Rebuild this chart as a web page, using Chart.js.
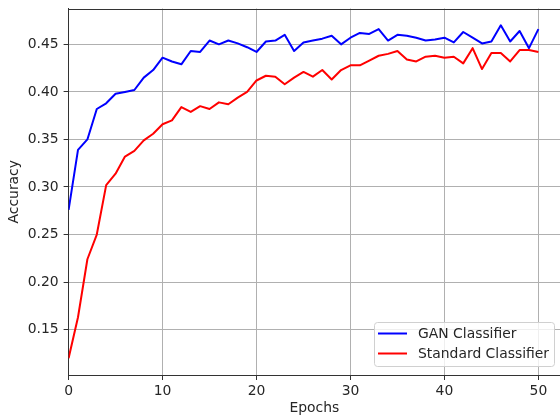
<!DOCTYPE html>
<html>
<head>
<meta charset="utf-8">
<script src="https://cdn.jsdelivr.net/npm/chart.js@4/dist/chart.umd.min.js"></script>
<style>
  html, body { margin: 0; padding: 0; background: #fff; }
  #wrap { width: 560px; height: 417px; }
</style>
</head>
<body>
<div id="wrap"><canvas id="accChart" width="560" height="417"></canvas></div>
<script>
// Data
const epochs = [0, 1, 2, 3, 4, 5, 6, 7, 8, 9, 10, 11, 12, 13, 14, 15, 16, 17, 18, 19, 20,
    21, 22, 23, 24, 25, 26, 27, 28, 29, 30, 31, 32, 33, 34, 35, 36, 37, 38, 39, 40,
    41, 42, 43, 44, 45, 46, 47, 48, 49, 50];

const ganAcc = [0.276, 0.339, 0.350, 0.382, 0.388, 0.398, 0.400, 0.402, 0.415, 0.423, 0.436,
    0.432, 0.429, 0.443, 0.442, 0.454, 0.450, 0.454, 0.451, 0.447, 0.442,
    0.453, 0.454, 0.460, 0.443, 0.452, 0.454, 0.456, 0.459, 0.450, 0.457,
    0.462, 0.461, 0.466, 0.454, 0.460, 0.459, 0.457, 0.454, 0.455, 0.457,
    0.452, 0.463, 0.457, 0.451, 0.453, 0.470, 0.453, 0.464, 0.446, 0.466];

const stdAcc = [0.120, 0.163, 0.224, 0.250, 0.302, 0.314, 0.332, 0.338, 0.349, 0.356, 0.366,
    0.370, 0.384, 0.379, 0.385, 0.382, 0.389, 0.387, 0.394, 0.400, 0.412,
    0.417, 0.416, 0.408, 0.415, 0.421, 0.416, 0.423, 0.413, 0.423, 0.428,
    0.428, 0.433, 0.438, 0.440, 0.443, 0.434, 0.432, 0.437, 0.438, 0.436,
    0.437, 0.430, 0.446, 0.424, 0.441, 0.441, 0.432, 0.444, 0.444, 0.442];

const xTicks = [0, 10, 20, 30, 40, 50];
const yTicks = [0.15, 0.20, 0.25, 0.30, 0.35, 0.40, 0.45];

const FONT = 'DejaVu Sans';
const FSIZE = 13.9;
const TXT = '#262626';
const SPINE = '#333333';

// top spine, matplotlib style
const frameTop = {
    id: 'frameTop',
    afterDraw(chart) {
        const a = chart.chartArea, ctx = chart.ctx;
        ctx.save();
        ctx.strokeStyle = SPINE;
        ctx.lineWidth = 1;
        ctx.beginPath();
        ctx.moveTo(a.left, Math.round(a.top) + 0.5);
        ctx.lineTo(chart.width, Math.round(a.top) + 0.5);
        ctx.stroke();
        ctx.restore();
    }
};

// legend box in the lower right corner
const boxLegend = {
    id: 'boxLegend',
    afterDraw(chart) {
        const ctx = chart.ctx;
        const x = 374.5, y = 322.5, w = 180, h = 44;
        ctx.save();
        ctx.fillStyle = 'rgba(255,255,255,0.8)';
        ctx.strokeStyle = '#d0d0d0';
        ctx.lineWidth = 1;
        ctx.beginPath();
        ctx.roundRect(x, y, w, h, 3);
        ctx.fill();
        ctx.stroke();
        ctx.font = FSIZE + 'px "' + FONT + '"';
        ctx.textBaseline = 'middle';
        ctx.fillStyle = TXT;
        chart.data.datasets.forEach((ds, i) => {
            const ly = 333.5 + i * 20;
            ctx.strokeStyle = ds.borderColor;
            ctx.lineWidth = 2;
            ctx.beginPath();
            ctx.moveTo(378, ly);
            ctx.lineTo(407, ly);
            ctx.stroke();
            ctx.fillText(ds.label, 418, ly + 1);
        });
        ctx.restore();
    }
};

const ctx = document.getElementById('accChart').getContext('2d');
new Chart(ctx, {
    type: 'line',
    data: {
        datasets: [{
            label: 'GAN Classifier',
            data: epochs.map((e, i) => ({ x: e, y: ganAcc[i] })),
            borderColor: '#0000ff',
            borderWidth: 2,
            order: 1
        }, {
            label: 'Standard Classifier',
            data: epochs.map((e, i) => ({ x: e, y: stdAcc[i] })),
            borderColor: '#ff0000',
            borderWidth: 2,
            order: 0
        }]
    },
    options: {
        responsive: false,
        animation: false,
        events: [],
        layout: { padding: { top: 8.5, right: 0, left: 0, bottom: 0 } },
        elements: {
            point: { radius: 0 },
            line: { tension: 0, borderJoinStyle: 'round', fill: false }
        },
        plugins: {
            legend: { display: false },
            tooltip: { enabled: false }
        },
        scales: {
            x: {
                type: 'linear',
                min: 0,
                max: 52.3,
                afterBuildTicks: s => { s.ticks = xTicks.map(v => ({ value: v })); },
                afterFit: s => { s.height = 42; s.paddingLeft = 0; s.paddingRight = 0; },
                grid: { color: '#b0b0b0', lineWidth: 1, tickColor: SPINE, tickLength: 5 },
                border: { color: SPINE, width: 1 },
                ticks: {
                    font: { family: FONT, size: FSIZE },
                    color: TXT,
                    padding: 3,
                    maxRotation: 0,
                    callback: v => String(v)
                },
                title: {
                    display: true,
                    text: 'Epochs',
                    font: { family: FONT, size: FSIZE },
                    color: TXT,
                    padding: { top: 0, bottom: 0 }
                }
            },
            y: {
                min: 0.1023,
                max: 0.4877,
                afterBuildTicks: s => { s.ticks = yTicks.map(v => ({ value: v })); },
                afterFit: s => { s.width = 68.6; s.paddingTop = 0; s.paddingBottom = 0; },
                grid: { color: '#b0b0b0', lineWidth: 1, tickColor: SPINE, tickLength: 5 },
                border: { color: SPINE, width: 1 },
                ticks: {
                    font: { family: FONT, size: FSIZE },
                    color: TXT,
                    padding: 5,
                    callback: v => v.toFixed(2)
                },
                title: {
                    display: true,
                    text: 'Accuracy',
                    font: { family: FONT, size: FSIZE },
                    color: TXT,
                    padding: { top: 6, bottom: 0 }
                }
            }
        }
    },
    plugins: [frameTop, boxLegend]
});
</script>
</body>
</html>
